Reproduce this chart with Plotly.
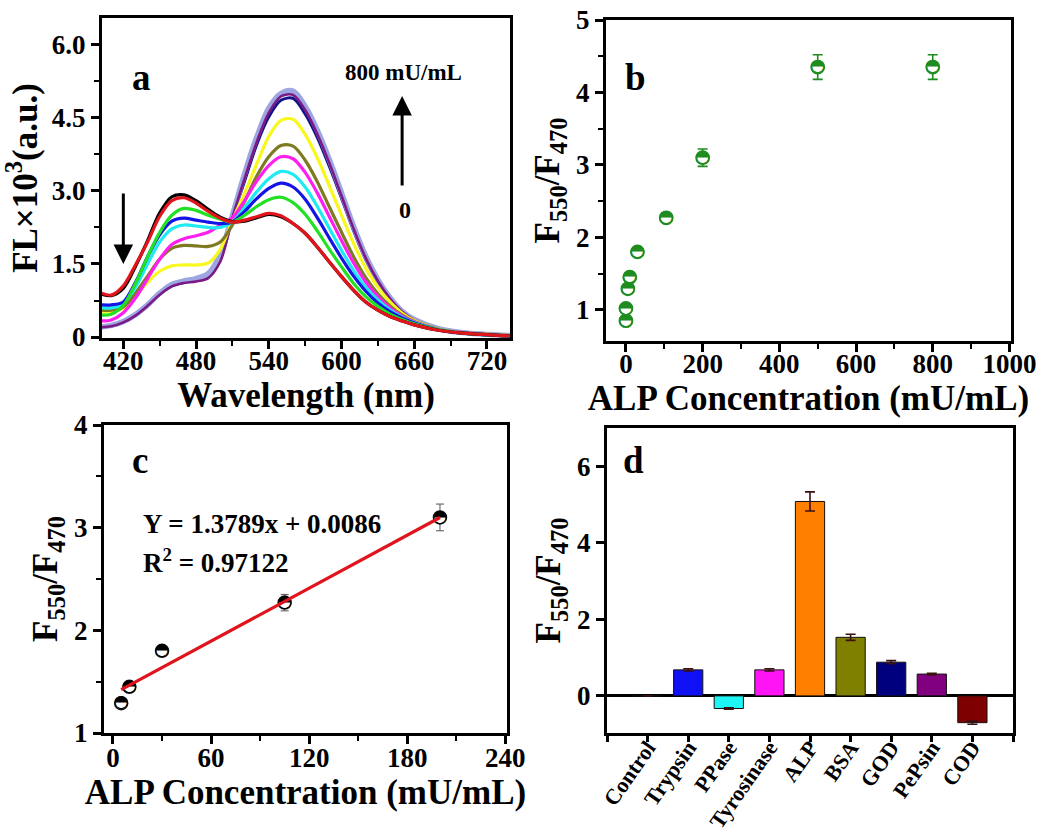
import plotly.graph_objects as go

FONT = "Liberation Serif"

# ---------------- Panel a: fluorescence spectra ----------------
wavelengths = [402, 410, 420, 430, 440, 450, 460, 470, 480, 490, 500, 510,
               520, 530, 540, 550, 560, 570, 580, 590, 600, 610, 620, 630,
               640, 650, 660, 680, 700, 740]
fl_lavender = [.21, .24, .32, .46, .66, .90, 1.08, 1.15, 1.20, 1.30, 1.70, 2.50,
               3.35, 4.10, 4.70, 5.00, 5.05, 4.74, 4.25, 3.64, 2.96, 2.27, 1.66, 1.18,
               .81, .53, .36, .17, .09, .03]
fl_purple = [.20, .22, .30, .44, .64, .87, 1.04, 1.11, 1.14, 1.21, 1.55, 2.45,
             3.25, 4.00, 4.60, 4.94, 4.97, 4.66, 4.17, 3.57, 2.90, 2.22, 1.62, 1.15,
             .79, .52, .35, .17, .09, .03]
fl_navy = [.20, .22, .30, .45, .65, .88, 1.05, 1.12, 1.16, 1.25, 1.60, 2.45,
           3.20, 3.95, 4.52, 4.86, 4.90, 4.58, 4.10, 3.50, 2.85, 2.18, 1.59, 1.13,
           .78, .51, .35, .17, .09, .03]
fl_yellow = [.52, .52, .60, .85, 1.12, 1.35, 1.46, 1.48, 1.48, 1.52, 1.80, 2.40,
             2.95, 3.55, 4.12, 4.45, 4.47, 4.16, 3.68, 3.10, 2.50, 1.92, 1.41, 1.02,
             .72, .49, .34, .17, .09, .03]
fl_olive = [.55, .55, .62, .90, 1.25, 1.60, 1.82, 1.88, 1.87, 1.86, 1.95, 2.30,
            2.78, 3.30, 3.70, 3.93, 3.92, 3.63, 3.19, 2.67, 2.15, 1.65, 1.22, .89,
            .64, .45, .32, .16, .09, .03]
fl_magenta = [.33, .35, .50, .80, 1.20, 1.60, 1.90, 2.02, 2.08, 2.15, 2.30, 2.45,
              2.80, 3.20, 3.52, 3.70, 3.66, 3.38, 2.96, 2.47, 1.98, 1.52, 1.13, .83,
              .60, .43, .31, .16, .09, .02]
fl_cyan = [.60, .60, .68, 1.02, 1.50, 1.95, 2.22, 2.30, 2.28, 2.25, 2.25, 2.36,
           2.66, 2.98, 3.25, 3.40, 3.34, 3.08, 2.68, 2.23, 1.78, 1.37, 1.02, .76,
           .56, .41, .30, .16, .08, .02]
fl_blue = [.66, .66, .72, 1.12, 1.65, 2.10, 2.38, 2.44, 2.40, 2.36, 2.33, 2.36,
           2.58, 2.84, 3.05, 3.16, 3.08, 2.83, 2.45, 2.03, 1.62, 1.25, .94, .70,
           .52, .39, .29, .15, .08, .02]
fl_green = [.45, .47, .65, 1.10, 1.65, 2.15, 2.50, 2.64, 2.60, 2.50, 2.42, 2.36,
            2.50, 2.68, 2.82, 2.87, 2.76, 2.52, 2.18, 1.80, 1.44, 1.10, .83, .63,
            .47, .36, .27, .15, .08, .02]
fl_black = [.88, .85, 1.00, 1.45, 1.98, 2.55, 2.88, 2.92, 2.80, 2.62, 2.46, 2.37,
            2.38, 2.45, 2.52, 2.47, 2.33, 2.13, 1.85, 1.54, 1.24, .96, .72, .55,
            .42, .33, .25, .14, .08, .02]
fl_red = [.90, .86, 1.05, 1.48, 1.95, 2.48, 2.80, 2.86, 2.75, 2.58, 2.44, 2.36,
          2.40, 2.47, 2.54, 2.49, 2.33, 2.13, 1.85, 1.54, 1.24, .96, .72, .55,
          .42, .33, .25, .14, .08, .02]

spectra = [  # drawing order: bottom first
    (fl_navy, "#12128A", 3),
    (fl_lavender, "#9EA6E2", 5.5),
    (fl_purple, "#7A1A86", 2.6),
    (fl_yellow, "#F8F81E", 3.2),
    (fl_olive, "#7E7A22", 3.2),
    (fl_magenta, "#FF1EF0", 3.2),
    (fl_cyan, "#1EEAF2", 3.2),
    (fl_blue, "#1414E6", 3.2),
    (fl_green, "#22E022", 3.2),
    (fl_black, "#000000", 3.2),
    (fl_red, "#E2141C", 3.2),
]

# ---------------- Panel b ----------------
b_conc = [0, 0, 5, 10, 30, 105, 200, 500, 800]
b_ratio = [0.85, 1.02, 1.29, 1.45, 1.80, 2.27, 3.10, 4.35, 4.35]
b_err = [0.05, 0.04, 0.04, 0.03, 0.03, 0.05, 0.12, 0.17, 0.17]

# ---------------- Panel c ----------------
c_conc = [5, 10, 30, 105, 200]
c_ratio = [1.29, 1.45, 1.80, 2.27, 3.10]
c_err = [0.02, 0.03, 0.03, 0.08, 0.13]
fit_slope = 0.0086
fit_intercept = 1.3789
fit_x = [5, 200]

# ---------------- Panel d ----------------
d_names = ["Control", "Trypsin", "PPase", "Tyrosinase", "ALP", "BSA", "GOD", "PePsin", "COD"]
d_values = [0.0, 0.68, -0.33, 0.68, 5.08, 1.53, 0.88, 0.57, -0.70]
d_err = [0.0, 0.03, 0.02, 0.03, 0.25, 0.08, 0.04, 0.02, 0.04]
d_colors = ["#FFFFFF", "#1010F5", "#1EF5F5", "#FF14F5", "#FF8000", "#808000",
            "#00007F", "#800080", "#7F0000"]

fig = go.Figure()

for vals, col, w in spectra:
    fig.add_trace(go.Scatter(x=wavelengths, y=vals, mode="lines",
                             line=dict(color=col, width=w, shape="spline", smoothing=0.9),
                             xaxis="x", yaxis="y", showlegend=False, hoverinfo="skip"))

# panel b markers: white circle + half-filled glyph
GREEN = "#1E8C1E"
fig.add_trace(go.Scatter(x=b_conc, y=b_ratio, mode="markers",
                         error_y=dict(type="data", array=b_err, color=GREEN, thickness=1.6, width=5),
                         marker=dict(symbol="circle", size=13, color="white",
                                     line=dict(color=GREEN, width=1.8)),
                         xaxis="x2", yaxis="y2", showlegend=False))
fig.add_trace(go.Scatter(x=b_conc, y=b_ratio, mode="text", text=["◓"] * len(b_conc),
                         textposition="middle center",
                         textfont=dict(family="DejaVu Sans", size=17, color=GREEN),
                         xaxis="x2", yaxis="y2", showlegend=False, hoverinfo="skip"))

# panel c
fig.add_trace(go.Scatter(x=c_conc, y=c_ratio, mode="markers",
                         error_y=dict(type="data", array=c_err, color="#555555", thickness=1, width=4),
                         marker=dict(symbol="circle", size=13, color="white",
                                     line=dict(color="#111111", width=1.5)),
                         xaxis="x3", yaxis="y3", showlegend=False))
fig.add_trace(go.Scatter(x=c_conc, y=c_ratio, mode="text", text=["◓"] * len(c_conc),
                         textposition="middle center",
                         textfont=dict(family="DejaVu Sans", size=17, color="#000000"),
                         xaxis="x3", yaxis="y3", showlegend=False, hoverinfo="skip"))
fig.add_trace(go.Scatter(x=fit_x, y=[fit_slope * v + fit_intercept for v in fit_x], mode="lines",
                         line=dict(color="#E0141C", width=3.2),
                         xaxis="x3", yaxis="y3", showlegend=False))

# panel d
fig.add_trace(go.Bar(x=list(range(len(d_names))), y=d_values, width=0.72,
                     marker=dict(color=d_colors, line=dict(color="#111111", width=1)),
                     error_y=dict(type="data", array=d_err, color="#3A1010", thickness=1.6, width=5),
                     xaxis="x4", yaxis="y4", showlegend=False))

tickfont = dict(family=FONT, size=27, color="black", weight="bold")
titlefont = dict(family=FONT, size=35, color="black", weight="bold")
MINOR = dict(ticks="outside", ticklen=5, tickwidth=2, tickcolor="black")


def ax(**kw):
    base = dict(showline=True, linewidth=3, linecolor="black", mirror=True,
                ticks="outside", ticklen=8, tickwidth=2.5, tickcolor="black",
                showgrid=False, zeroline=False, tickfont=tickfont,
                title_font=titlefont, automargin=False)
    base.update(kw)
    return base


H, W = 832, 1048
fig.update_layout(
    width=W, height=H, margin=dict(l=0, r=0, t=0, b=0),
    paper_bgcolor="white", plot_bgcolor="white", showlegend=False,
    xaxis=ax(domain=[102 / W, 510 / W], anchor="y", range=[402.4, 739],
             tickvals=[420, 480, 540, 600, 660, 720], ticklabelstandoff=-11,
             minor=dict(MINOR, dtick=30, tick0=0),
             title=dict(text="Wavelength (nm)", standoff=0)),
    yaxis=ax(domain=[1 - 338 / H, 1 - 18 / H], anchor="x", range=[-0.02, 6.55],
             tickvals=[0, 1.5, 3, 4.5, 6], ticktext=["0", "1.5", "3.0", "4.5", "6.0"],
             minor=dict(MINOR, dtick=0.75, tick0=0),
             title=dict(text="FL×10<sup>3</sup>(a.u.)", standoff=4)),
    xaxis2=ax(domain=[606 / W, 1011 / W], anchor="y2", range=[-52, 1004], dtick=200, tick0=0,
              ticklabelstandoff=-11,
              minor=dict(MINOR, dtick=100),
              title=dict(text="ALP Concentration (mU/mL)", standoff=0)),
    yaxis2=ax(domain=[1 - 341 / H, 1 - 20 / H], anchor="x2", range=[0.57, 5.0], dtick=1, tick0=0,
              minor=dict(MINOR, dtick=0.5),
              title=dict(text="F<sub>550</sub>/F<sub>470</sub>", standoff=6)),
    xaxis3=ax(domain=[104 / W, 507 / W], anchor="y3", range=[-5.5, 241], dtick=60, tick0=0,
              ticklabelstandoff=-9,
              minor=dict(MINOR, dtick=30),
              title=dict(text="ALP Concentration (mU/mL)", standoff=0)),
    yaxis3=ax(domain=[1 - 733 / H, 1 - 425 / H], anchor="x3", range=[1, 4], dtick=1, tick0=0,
              minor=dict(MINOR, dtick=0.5),
              title=dict(text="F<sub>550</sub>/F<sub>470</sub>", standoff=6)),
    xaxis4=ax(domain=[607 / W, 1013 / W], anchor="y4", range=[-1, 9],
              tickvals=list(range(len(d_names))), ticktext=d_names,
              tickangle=-55, ticklen=6, ticklabelstandoff=-16,
              minor=dict(ticks="outside", ticklen=6, tickwidth=2.5, tickcolor="black", dtick=1, tick0=-1),
              tickfont=dict(family=FONT, size=22, color="black", weight="bold")),
    yaxis4=ax(domain=[1 - 733 / H, 1 - 428 / H], anchor="x4", range=[-0.97, 7],
              tickvals=[0, 2, 4, 6],
              zeroline=True, zerolinewidth=3, zerolinecolor="black",
              title=dict(text="F<sub>550</sub>/F<sub>470</sub>", standoff=6)),
)

lab = dict(family=FONT, size=37, color="black", weight="bold")
ann = [
    dict(text="a", x=130 / W, y=1 - 55 / H, xref="paper", yref="paper", showarrow=False, font=lab),
    dict(text="b", x=635 / W, y=1 - 55 / H, xref="paper", yref="paper", showarrow=False, font=lab),
    dict(text="c", x=130 / W, y=1 - 460 / H, xref="paper", yref="paper", showarrow=False, font=lab),
    dict(text="d", x=633 / W, y=1 - 460 / H, xref="paper", yref="paper", showarrow=False, font=lab),
    dict(text="800 mU/mL", x=651, y=5.43, xref="x", yref="y", showarrow=False,
         font=dict(family=FONT, size=23, color="black", weight="bold")),
    dict(text="0", x=652, y=2.6, xref="x", yref="y", showarrow=False,
         font=dict(family=FONT, size=24, color="black", weight="bold")),
    dict(text="", x=650, y=4.95, ax=650, ay=3.08, xref="x", yref="y", axref="x", ayref="y",
         showarrow=True, arrowhead=2, arrowsize=1.3, arrowwidth=3, arrowcolor="black"),
    dict(text="", x=420, y=1.5, ax=420, ay=2.98, xref="x", yref="y", axref="x", ayref="y",
         showarrow=True, arrowhead=2, arrowsize=1.3, arrowwidth=3, arrowcolor="black"),
    dict(text="Y = 1.3789x + 0.0086", x=17, y=3.04, xref="x3", yref="y3", xanchor="left",
         showarrow=False, font=dict(family=FONT, size=27, color="black", weight="bold")),
    dict(text="R<sup>2</sup> = 0.97122", x=17, y=2.68, xref="x3", yref="y3", xanchor="left",
         showarrow=False, font=dict(family=FONT, size=27, color="black", weight="bold")),
]
fig.update_layout(annotations=ann)

fig.write_html("out.html")
